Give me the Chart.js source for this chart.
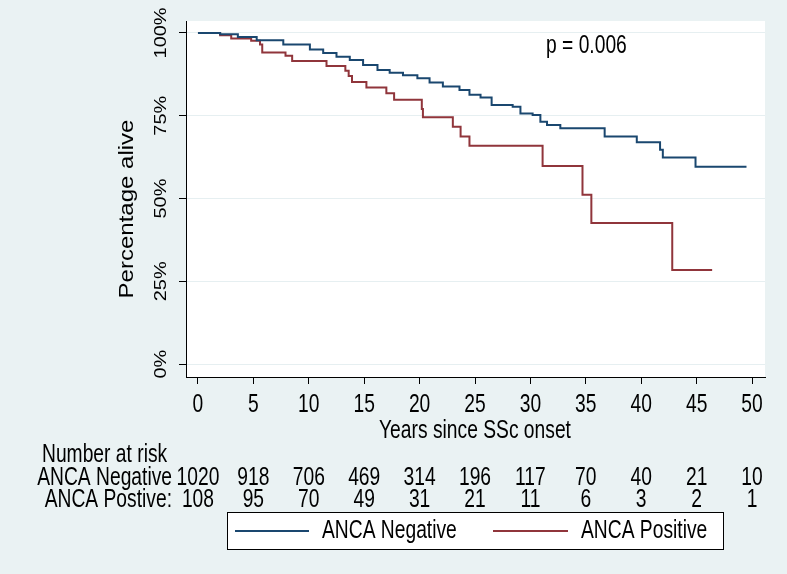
<!DOCTYPE html>
<html>
<head>
<meta charset="utf-8">
<title>ANCA survival</title>
<script src="https://cdn.jsdelivr.net/npm/chart.js@4/dist/chart.umd.min.js"></script>
<style>
    html, body { margin: 0; padding: 0; background: #eaf2f3; }
    #wrap { width: 787px; height: 574px; }
</style>
</head>
<body>
<div id="wrap"><canvas id="kmChart" width="787" height="574"></canvas></div>
<script>
// Kaplan-Meier estimates (years, % alive)
const negTimes = [0, 2.0, 3.6, 5.3, 7.7, 10.1, 11.3, 12.5, 13.7, 14.9, 16.2, 17.3, 18.5, 19.8, 20.9, 22.1, 23.6, 24.5, 25.5, 26.5, 28.4, 29.1, 30.2, 30.9, 31.5, 32.7, 36.7, 39.6, 41.7, 41.95, 44.9, 49.5];
const negSurv  = [100, 99.6, 98.8, 97.8, 96.5, 95.0, 93.9, 92.8, 91.8, 90.3, 88.8, 88.0, 87.2, 86.3, 85.0, 83.8, 82.8, 81.3, 80.5, 78.2, 77.7, 75.7, 75.2, 73.2, 72.2, 71.2, 68.7, 67.0, 64.7, 62.4, 59.6, 59.6];

const posTimes = [0, 2.0, 3.0, 4.8, 5.6, 5.8, 7.9, 8.5, 11.6, 13.3, 13.6, 13.9, 15.2, 17.0, 17.7, 20.2, 20.3, 23.0, 23.7, 24.5, 31.1, 34.7, 35.5, 42.8, 46.4];
const posSurv  = [100, 99.3, 98.3, 97.6, 96.5, 94.1, 93.1, 91.5, 90.0, 88.6, 87.0, 85.2, 83.5, 81.8, 79.8, 77.0, 74.5, 71.7, 68.7, 65.9, 59.8, 51.1, 42.6, 28.4, 28.4];

const xTicks = [0, 5, 10, 15, 20, 25, 30, 35, 40, 45, 50];
const yTicks = [0, 25, 50, 75, 100];
const yTickLabels = ["0%", "25%", "50%", "75%", "100%"];

// number at risk table
const riskLabels = ["ANCA Negative", "ANCA Postive:"];
const negRisk = [1020, 918, 706, 469, 314, 196, 117, 70, 40, 21, 10];
const posRisk = [108, 95, 70, 49, 31, 21, 11, 6, 3, 2, 1];

const seriesNames = ["ANCA Negative", "ANCA Positive"];
const pValueText = "p = 0.006";

const BLUE = "#1a476f";
const RED = "#90353b";
const SQUEEZE = 0.77; // text in the picture is narrower than plain Arial
const FONT = '"Liberation Sans", Arial, sans-serif';

function toPoints(xs, ys) {
    return xs.map((x, i) => ({ x: x, y: ys[i] }));
}

function drawText(ctx, txt, x, y, size, align, rotated) {
    ctx.save();
    ctx.translate(x, y);
    if (rotated) {
        ctx.rotate(-Math.PI / 2);
        ctx.scale(1, 0.85);
    } else {
        ctx.scale(SQUEEZE, 1);
    }
    ctx.font = size + "px " + FONT;
    ctx.textAlign = align;
    ctx.textBaseline = "middle";
    ctx.fillStyle = "#000";
    ctx.fillText(txt, 0, 0);
    ctx.restore();
}

const stataDecor = {
    id: "stataDecor",
    beforeDraw(chart) {
        const ctx = chart.ctx;
        const a = chart.chartArea;
        ctx.save();
        ctx.fillStyle = "#eaf2f3";
        ctx.fillRect(0, 0, chart.width, chart.height);
        ctx.fillStyle = "#ffffff";
        ctx.fillRect(a.left, a.top, a.right - a.left, a.bottom - a.top);
        ctx.restore();
    },
    afterDraw(chart) {
        const ctx = chart.ctx;
        const xs = chart.scales.x;
        const ys = chart.scales.y;
        const a = chart.chartArea;

        // y tick labels + title (rotated)
        yTicks.forEach((v, i) => {
            drawText(ctx, yTickLabels[i], 161, ys.getPixelForValue(v), 20, "center", true);
        });
        drawText(ctx, "Percentage alive", 127, (a.top + a.bottom) / 2 + 10, 24, "center", true);

        // x tick labels + title
        xTicks.forEach(v => {
            drawText(ctx, String(v), xs.getPixelForValue(v), 405, 25, "center", false);
        });
        drawText(ctx, "Years since SSc onset", xs.getPixelForValue(25), 431, 25, "center", false);

        // p value
        drawText(ctx, pValueText, 546, 46, 25, "left", false);

        // number at risk
        drawText(ctx, "Number at risk", 42, 455, 25, "left", false);
        drawText(ctx, riskLabels[0], 172, 478, 25, "right", false);
        drawText(ctx, riskLabels[1], 172, 500, 25, "right", false);
        xTicks.forEach((v, i) => {
            drawText(ctx, String(negRisk[i]), xs.getPixelForValue(v), 478, 25, "center", false);
            drawText(ctx, String(posRisk[i]), xs.getPixelForValue(v), 500, 25, "center", false);
        });

        // legend box
        ctx.save();
        ctx.fillStyle = "#ffffff";
        ctx.fillRect(227, 512, 496, 37);
        ctx.strokeStyle = "#000";
        ctx.lineWidth = 1;
        ctx.strokeRect(227.5, 512.5, 496, 37);
        const ds = chart.data.datasets;
        const legendItems = [
            { x0: 235, x1: 309, tx: 322 },
            { x0: 493, x1: 568, tx: 581 }
        ];
        legendItems.forEach((it, i) => {
            ctx.strokeStyle = ds[i].borderColor;
            ctx.lineWidth = 2;
            ctx.beginPath();
            ctx.moveTo(it.x0, 531);
            ctx.lineTo(it.x1, 531);
            ctx.stroke();
        });
        ctx.restore();
        legendItems.forEach((it, i) => {
            drawText(ctx, ds[i].label, it.tx, 531, 25, "left", false);
        });
    }
};

document.addEventListener("DOMContentLoaded", function () {
    const ctx = document.getElementById("kmChart").getContext("2d");

    new Chart(ctx, {
        type: "line",
        data: {
            datasets: [
                {
                    label: seriesNames[0],
                    data: toPoints(negTimes, negSurv),
                    borderColor: BLUE,
                    borderWidth: 2,
                    stepped: true,
                    pointRadius: 0,
                    fill: false
                },
                {
                    label: seriesNames[1],
                    data: toPoints(posTimes, posSurv),
                    borderColor: RED,
                    borderWidth: 2,
                    stepped: true,
                    pointRadius: 0,
                    fill: false
                }
            ]
        },
        options: {
            responsive: false,
            animation: false,
            layout: { padding: { left: 0, right: 22, top: 21, bottom: 0 } },
            plugins: {
                legend: { display: false },
                tooltip: { enabled: false }
            },
            scales: {
                x: {
                    type: "linear",
                    min: -1.08,
                    max: 51.17,
                    afterBuildTicks: s => { s.ticks = xTicks.map(v => ({ value: v })); },
                    afterFit: s => { s.height = 197; },
                    ticks: { display: false },
                    grid: { drawOnChartArea: false, drawTicks: true, tickLength: 7, tickColor: "#000" },
                    border: { display: true, color: "#000", width: 1 }
                },
                y: {
                    type: "linear",
                    min: -3.9,
                    max: 103.6,
                    afterBuildTicks: s => { s.ticks = yTicks.map(v => ({ value: v })); },
                    afterFit: s => { s.width = 186; },
                    ticks: { display: false },
                    grid: { color: "#e6eff1", lineWidth: 1, drawTicks: true, tickLength: 7, tickColor: "#000" },
                    border: { display: true, color: "#000", width: 1 }
                }
            }
        },
        plugins: [stataDecor]
    });
});
</script>
</body>
</html>
